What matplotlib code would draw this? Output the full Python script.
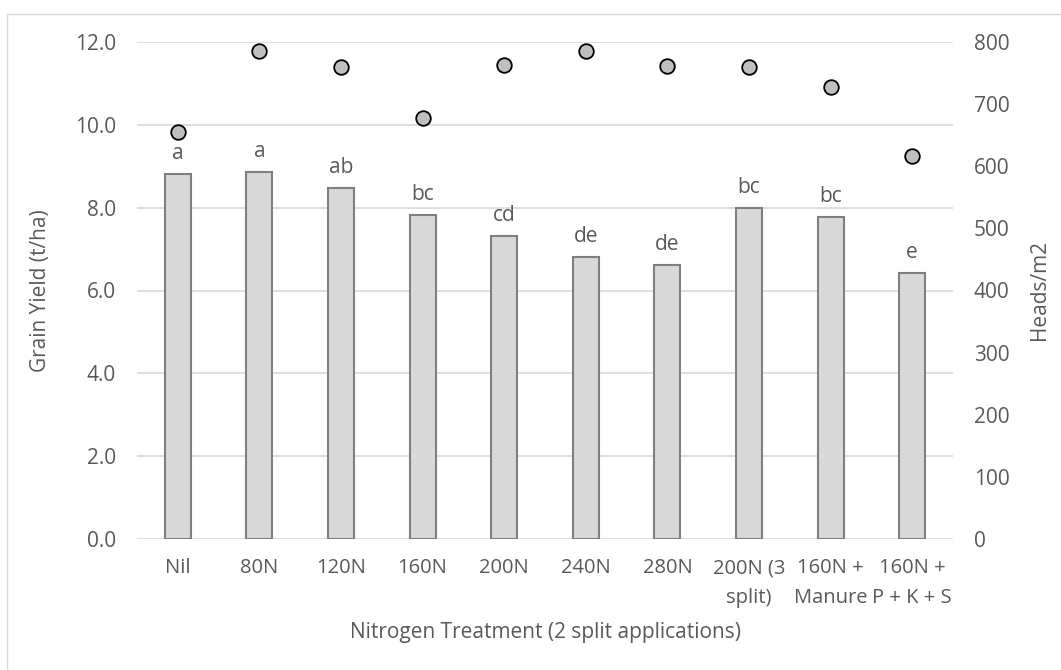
import matplotlib.pyplot as plt
from matplotlib.patches import Rectangle

plt.rcParams['font.family'] = ['Open Sans', 'DejaVu Sans']

treatments = ["Nil", "80N", "120N", "160N", "200N", "240N", "280N",
              "200N (3\nsplit)", "160N +\nManure", "160N +\nP + K + S"]
grain_yield = [8.82, 8.86, 8.48, 7.83, 7.32, 6.81, 6.62, 8.00, 7.77, 6.43]
heads_m2 = [655, 785, 760, 678, 763, 786, 762, 760, 728, 616]
letters = ["a", "a", "ab", "bc", "cd", "de", "de", "bc", "bc", "e"]

TXT = '#595959'
FS = 15

fig = plt.figure(figsize=(10.61, 6.70), dpi=100)
# chart border (Excel style)
fig.patches.append(Rectangle((7 / 1061, -0.05), 1.1, 1 - 14 / 670 + 0.05,
                             transform=fig.transFigure, fill=False,
                             edgecolor='#d9d9d9', linewidth=1))

ax = fig.add_axes([137 / 1061, 1 - 539 / 670, (953 - 137) / 1061, (539 - 42) / 670])
x = range(len(treatments))
ax.bar(x, grain_yield, width=0.32, color='#d9d9d9', edgecolor='#7f7f7f',
       linewidth=1.5, zorder=2)
for i, (v, lab) in enumerate(zip(grain_yield, letters)):
    ax.annotate(lab, (i, v), xytext=(0, 7), textcoords='offset points',
                ha='center', va='bottom', fontsize=FS, color=TXT)

ax.set_xlim(-0.5, len(treatments) - 0.5)
ax.set_ylim(0, 12)
ax.set_yticks([0, 2, 4, 6, 8, 10, 12])
ax.set_yticklabels([f"{t:.1f}" for t in [0, 2, 4, 6, 8, 10, 12]])
ax.set_xticks(list(x))
ax.set_xticklabels(treatments, linespacing=1.65, fontsize=14.5)
ax.grid(axis='y', color='#d9d9d9', linewidth=1.2, zorder=0)
ax.set_axisbelow(True)
for s in ax.spines.values():
    s.set_visible(False)
ax.tick_params(axis='y', length=0, labelsize=FS, labelcolor=TXT, pad=15)
ax.tick_params(axis='x', length=0, labelcolor=TXT, pad=14)
ax.set_ylabel("Grain Yield (t/ha)", fontsize=FS, color=TXT, labelpad=17)
ax.set_xlabel("Nitrogen Treatment (2 split applications)", fontsize=FS,
              color=TXT, labelpad=10)

ax2 = ax.twinx()
ax2.plot(list(x), heads_m2, linestyle='none', marker='o', markersize=10.5,
         markerfacecolor='#bfbfbf', markeredgecolor='black',
         markeredgewidth=1.3, zorder=3)
ax2.set_ylim(0, 800)
ax2.set_yticks(range(0, 801, 100))
for s in ax2.spines.values():
    s.set_visible(False)
ax2.tick_params(axis='y', length=0, labelsize=FS, labelcolor=TXT, pad=15)
ax2.set_ylabel("Heads/m2", fontsize=FS, color=TXT, labelpad=14)

fig.savefig("out.png", dpi=100)
